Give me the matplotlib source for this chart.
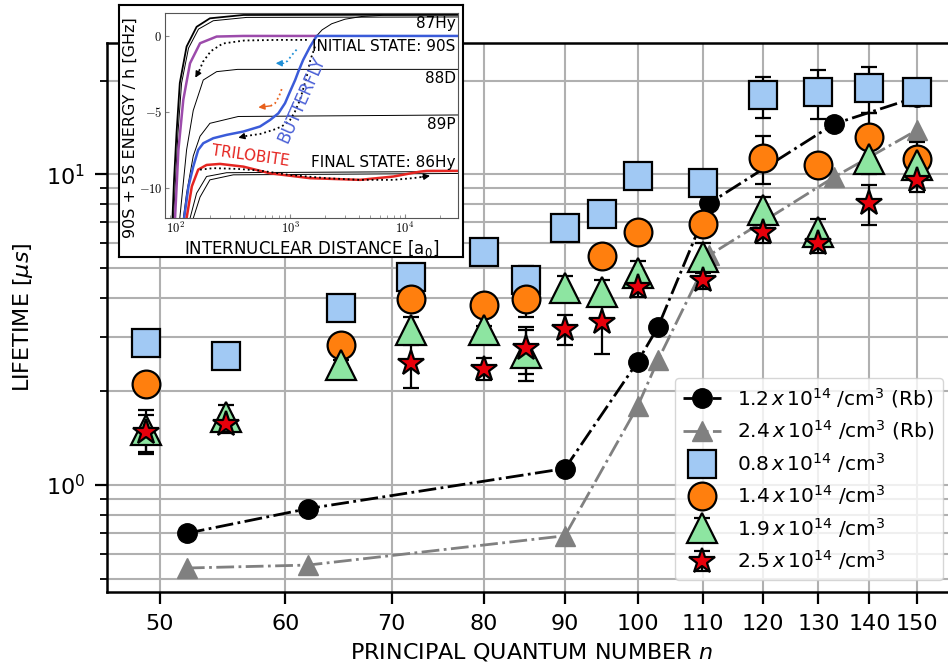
import matplotlib
matplotlib.use("Agg")
import matplotlib.pyplot as plt
from matplotlib.ticker import NullLocator, NullFormatter

# ---- main plot data ----
n_rb1 = [52, 62, 90, 100, 103, 111, 133, 150]
tau_rb1 = [0.70, 0.84, 1.13, 2.49, 3.22, 8.07, 14.5, 17.7]
n_rb2 = [52, 62, 90, 100, 103, 111, 133, 150]
tau_rb2 = [0.541, 0.553, 0.687, 1.79, 2.52, 5.49, 9.78, 13.85]

n_08 = [49, 55, 65, 72, 80, 85, 90, 95, 100, 110, 120, 130, 140, 150]
tau_08 = [2.87, 2.61, 3.72, 4.68, 5.63, 4.56, 6.73, 7.47, 9.85, 9.38, 17.9, 18.3, 18.9, 18.3]
err_08 = [0.1, 0.1, 0.15, 0.2, 0.2, 0.5, 0.2, 0.25, 0.4, 0.4, 2.7, 3.3, 3.2, 1.8]

n_14 = [49, 65, 72, 80, 85, 95, 100, 110, 120, 130, 140, 150]
tau_14 = [2.11, 2.82, 3.98, 3.79, 3.98, 5.45, 6.52, 6.91, 11.3, 10.7, 13.2, 11.2]
err_14 = [0.1, 0.1, 0.2, 0.2, 0.5, 0.25, 0.3, 0.3, 2.0, 0.5, 2.5, 1.5]

n_19 = [49, 55, 65, 72, 80, 85, 90, 95, 100, 110, 120, 130, 140, 150]
tau_19 = [1.50, 1.66, 2.43, 3.15, 3.15, 2.66, 4.29, 4.18, 4.82, 5.42, 7.66, 6.52, 11.2, 10.7]
err_19 = [0.24, 0.15, 0.1, 0.33, 0.1, 0.5, 0.4, 0.4, 0.45, 0.6, 0.8, 0.65, 1.2, 1.0]

n_25 = [49, 55, 72, 80, 85, 90, 95, 100, 110, 120, 130, 140, 150]
tau_25 = [1.48, 1.57, 2.47, 2.37, 2.75, 3.17, 3.34, 4.32, 4.56, 6.52, 5.99, 8.05, 9.57]
err_25 = [0.2, 0.1, 0.42, 0.2, 0.47, 0.35, 0.7, 0.3, 0.3, 0.5, 0.4, 1.2, 0.8]

xticks = [50, 60, 70, 80, 90, 100, 110, 120, 130, 140, 150]

# ---- inset data: potential curves (R in a0, energy in GHz) ----
R_hy_a = [95, 98, 103, 110, 126, 154, 201, 393, 29000]
E_hy_a = [-12, -9.5, -6.4, -3.1, -0.7, 0.6, 1.16, 1.38, 1.4]
R_hy_b = [97, 101, 106, 114, 131, 160, 215, 420, 29000]
E_hy_b = [-12, -9.5, -6.4, -3.1, -0.8, 0.45, 1.0, 1.22, 1.25]
R_cross = [1700, 1900, 2300, 3000, 4200, 6500, 29000]
E_cross = [0, 0.4, 0.8, 1.1, 1.28, 1.36, 1.38]
R_purple = [100, 107, 118, 135, 165, 230, 393, 1705]
E_purple = [-12, -7.5, -4.2, -1.8, -0.48, -0.04, 0, 0]
R_blue = [120, 131, 144, 159, 176, 215, 281, 393, 548, 670, 792, 904, 1000,
          1108, 1180, 1300, 1495, 1705, 29000]
E_blue = [-12, -9.9, -8.6, -7.5, -7.06, -6.73, -6.51, -6.29, -5.96, -5.53, -5.09,
          -4.43, -3.66, -2.9, -2.35, -1.58, -0.7, 0, 0]
R_88d = [110, 126, 144, 176, 230, 350, 29000]
E_88d = [-12, -7.5, -4.9, -2.9, -2.35, -2.2, -2.2]
R_89p = [118, 126, 144, 165, 201, 355, 29000]
E_89p = [-12, -10.35, -7.9, -6.6, -5.75, -5.3, -5.2]
R_red = [126, 140, 159, 188, 246, 393, 670, 1495, 4070, 7930, 13470, 15400, 29000]
E_red = [-12, -9.9, -8.8, -8.49, -8.42, -8.6, -9.04, -9.36, -9.47, -9.25, -8.93, -8.88, -8.88]
R_fin_a = [135, 154, 188, 281, 29000]
E_fin_a = [-12, -10.35, -9.25, -9.0, -8.92]
R_fin_b = [144, 165, 201, 321, 29000]
E_fin_b = [-12, -10.6, -9.47, -9.14, -9.05]

R_dot1 = [1400, 800, 400, 260, 205, 175, 162]
E_dot1 = [-0.26, -0.26, -0.3, -0.5, -1.0, -1.7, -2.3]
R_dot2 = [1650, 1500, 1396, 1300, 1222, 1100, 1000, 850, 717, 550, 400]
E_dot2 = [-0.7, -1.6, -2.68, -3.5, -4.2, -5.0, -5.53, -5.95, -6.18, -6.45, -6.6]
R_dot3 = [165, 215, 350, 548, 1000, 2080, 4000, 7930, 12000, 14000]
E_dot3 = [-8.8, -8.7, -8.75, -8.86, -9.15, -9.36, -9.47, -9.47, -9.35, -9.28]
R_dotb = [1140, 1040, 950, 880]
E_dotb = [-0.9, -1.25, -1.65, -1.8]
R_doto = [846, 800, 741, 680]
E_doto = [-3.5, -4.0, -4.43, -4.6]

W, H = 948, 671
fig = plt.figure(figsize=(W / 100, H / 100), dpi=100)


def box(x0, y0, x1, y1):
    # pixel box -> figure fraction
    return [x0 / W, 1 - y1 / H, (x1 - x0) / W, (y1 - y0) / H]


ax = fig.add_axes(box(107.3, 42.5, 955, 592))
ax.set_xscale('log')
ax.set_yscale('log')

ax.plot(n_rb1, tau_rb1, '-.', color='k', lw=2, marker='o', ms=14,
        label=r'$1.2\,x\,10^{14}$ /cm$^3$ (Rb)')
ax.plot(n_rb2, tau_rb2, '-.', color='#808080', lw=2, marker='^', ms=15,
        label=r'$2.4\,x\,10^{14}$ /cm$^3$ (Rb)')

eb = dict(mec='k', mew=1.6, ecolor='k', elinewidth=1.6, capsize=6, capthick=1.6)
ax.errorbar(n_08, tau_08, yerr=err_08, fmt='s', ms=20, mfc='#a1c9f4',
            label=r'$0.8\,x\,10^{14}$ /cm$^3$', **eb)
ax.errorbar(n_14, tau_14, yerr=err_14, fmt='o', ms=20, mfc='#ff7f0e',
            label=r'$1.4\,x\,10^{14}$ /cm$^3$', **eb)
ax.errorbar(n_19, tau_19, yerr=err_19, fmt='^', ms=21, mfc='#8de5a1',
            label=r'$1.9\,x\,10^{14}$ /cm$^3$', **eb)
ax.errorbar(n_25, tau_25, yerr=err_25, fmt='*', ms=19, mfc='#e8000b',
            label=r'$2.5\,x\,10^{14}$ /cm$^3$', **eb)

ax.set_xlim(46.33, 158.5)
ax.set_ylim(0.453, 26.5)
ax.set_xticks(xticks, labels=[str(v) for v in xticks])
ax.xaxis.set_minor_locator(NullLocator())
ax.yaxis.set_minor_formatter(NullFormatter())
ax.grid(True, which='major', color='#b0b0b0', lw=1.5)
ax.yaxis.grid(True, which='minor', color='#b0b0b0', lw=1.5)
ax.tick_params(which='major', length=8.5, width=1.6, labelsize=16, pad=7.5)
ax.tick_params(which='minor', length=5, width=1.3)
for s in ax.spines.values():
    s.set_linewidth(1.8)

ax.set_xlabel(r'PRINCIPAL QUANTUM NUMBER $n$', fontsize=16, labelpad=5)
ax.set_ylabel(r'LIFETIME [$\mu s$]', fontsize=16, labelpad=8)
ax.legend(loc='lower right', fontsize=14.5, borderaxespad=0.6, labelspacing=0.42,
          handlelength=1.9, handletextpad=0.8)

# ---- inset: white frame + potential curve panel ----
frame = fig.add_axes(box(119, 4.7, 463.3, 256.7), zorder=3)
frame.set_xticks([])
frame.set_yticks([])
for s in frame.spines.values():
    s.set_linewidth(1.5)

ax_in = fig.add_axes(box(165, 13.3, 457.7, 218.3), zorder=4)
ax_in.set_xscale('log')
ax_in.set_xlim(81.8, 28700)
ax_in.set_ylim(-12, 1.49)

ax_in.plot(R_hy_a, E_hy_a, color='k', lw=1.3)
ax_in.plot(R_hy_b, E_hy_b, color='k', lw=0.7)
ax_in.plot(R_cross, E_cross, color='k', lw=0.7)
ax_in.plot(R_88d, E_88d, color='k', lw=0.7)
ax_in.plot(R_89p, E_89p, color='k', lw=0.7)
ax_in.plot(R_fin_a, E_fin_a, color='k', lw=0.7)
ax_in.plot(R_fin_b, E_fin_b, color='k', lw=0.7)
ax_in.plot(R_purple, E_purple, color='#9c4bab', lw=1.8)
ax_in.plot(R_blue, E_blue, color='#3a5bd9', lw=1.8)
ax_in.plot(R_red, E_red, color='#e52521', lw=1.8)

dots = [(R_dot1, E_dot1, 'k', (150, -2.75)),
        (R_dot2, E_dot2, 'k', (355, -6.7)),
        (R_dot3, E_dot3, 'k', (16500, -9.2)),
        (R_dotb, E_dotb, '#1f8fd6', (750, -1.8)),
        (R_doto, E_doto, '#e8601c', (530, -4.7))]
for rr, ee, c, tip in dots:
    ax_in.plot(rr, ee, ':', color=c, lw=1.3)
    ax_in.annotate('', xy=tip, xytext=(rr[-1], ee[-1]),
                   arrowprops=dict(arrowstyle='-|>', color=c, lw=1.0,
                                   mutation_scale=9, shrinkA=0, shrinkB=0))

txt = dict(fontsize=11, ha='right', va='center')
ax_in.text(27500, 0.85, '87Hy', **txt)
ax_in.text(27500, -0.72, 'INITIAL STATE: 90S', **txt)
ax_in.text(27500, -2.8, '88D', **txt)
ax_in.text(27500, -5.8, '89P', **txt)
ax_in.text(27500, -8.3, 'FINAL STATE: 86Hy', **txt)
ax_in.text(450, -7.9, 'TRILOBITE', color='#e52521', fontsize=11,
           rotation=-8, ha='center', va='center')
ax_in.text(1250, -4.2, 'BUTTERFLY', color='#4a5fd6', fontsize=12,
           rotation=66, ha='center', va='center')

ax_in.set_xticks([100, 1000, 10000], labels=['$10^2$', '$10^3$', '$10^4$'])
ax_in.set_yticks([0, -5, -10], labels=['$0$', '$-5$', '$-10$'])
ax_in.tick_params(which='both', direction='in', color='#888888', labelsize=9, pad=2)
ax_in.tick_params(which='major', length=3)
ax_in.tick_params(which='minor', length=2)
for t in ax_in.get_xticklabels() + ax_in.get_yticklabels():
    t.set_math_fontfamily('cm')
for s in ax_in.spines.values():
    s.set_linewidth(0.8)
    s.set_color('#555555')
ax_in.set_xlabel('INTERNUCLEAR DISTANCE [a$_0$]', fontsize=12, labelpad=1)
ax_in.set_ylabel('90S + 5S ENERGY / h [GHz]', fontsize=11.5)
ax_in.yaxis.set_label_coords(-0.092, 0.44)

fig.savefig('out.png', dpi=100)
